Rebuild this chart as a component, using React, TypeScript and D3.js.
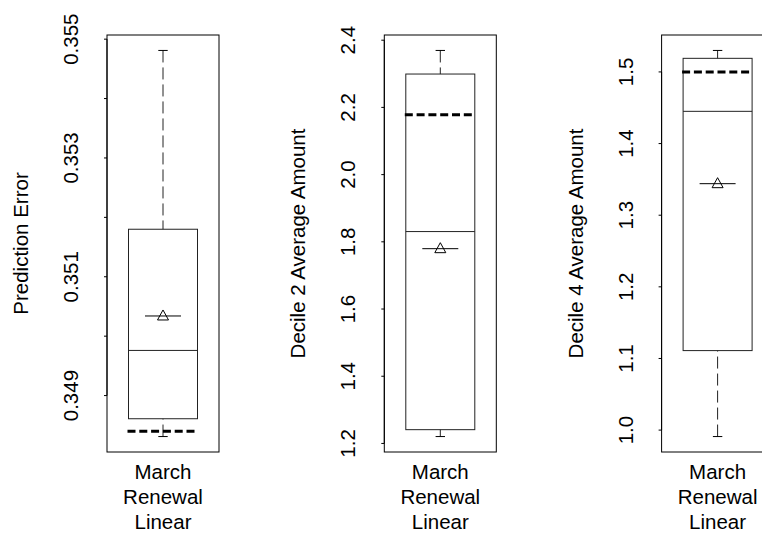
import React from 'react';
import * as d3 from 'd3';

// three single-box panels, one per measure
const yTitles = ['Prediction Error', 'Decile 2 Average Amount', 'Decile 4 Average Amount'];
const groupLines = ['March', 'Renewal', 'Linear'];

const whiskerLow = [0.34831, 1.2205, 0.991];
const lowerQuartile = [0.34861, 1.241, 1.111];
const medians = [0.34976, 1.8305, 1.445];
const upperQuartile = [0.3518, 2.2993, 1.519];
const whiskerHigh = [0.35481, 2.3695, 1.53];
const means = [0.35034, 1.7796, 1.344];
const referenceLevel = [0.3484, 2.178, 1.5];

const tickValues = [
  [0.349, 0.35, 0.351, 0.352, 0.353, 0.354, 0.355],
  [1.2, 1.4, 1.6, 1.8, 2.0, 2.2, 2.4],
  [1.0, 1.1, 1.2, 1.3, 1.4, 1.5],
];
const tickLabels = [
  ['0.349', '', '0.351', '', '0.353', '', '0.355'],
  ['1.2', '1.4', '1.6', '1.8', '2.0', '2.2', '2.4'],
  ['1.0', '1.1', '1.2', '1.3', '1.4', '1.5'],
];

const W = 762;
const H = 537;
const top = 35;
const bottom = 452;
const frameW = 112;
const font = '"Liberation Sans", Arial, sans-serif';
const fs = 20.5;

const panelX = d3.scaleLinear().domain([0, 1]).range([107, 384.3]);

const Panel = ({ i }: { i: number }) => {
  const left = panelX(i);
  const cx = left + 56;
  const half = 34.5;
  const span = whiskerHigh[i] - whiskerLow[i];
  const y = d3
    .scaleLinear()
    .domain([whiskerLow[i] - span * 0.04, whiskerHigh[i] + span * 0.04])
    .range([bottom, top]);
  const ticks = tickValues[i];
  const yMean = y(means[i]);

  return (
    <g>
      <rect x={left} y={top} width={frameW} height={bottom - top} fill="none" stroke="#000" strokeWidth={1} />
      {/* y axis */}
      <line x1={left} x2={left} y1={y(ticks[0])} y2={y(ticks[ticks.length - 1])} stroke="#000" />
      {ticks.map((t, k) => (
        <g key={k}>
          <line x1={left - 3} x2={left} y1={y(t)} y2={y(t)} stroke="#000" />
          {tickLabels[i][k] && (
            <text
              transform={`translate(${left - 29},${y(t)}) rotate(-90)`}
              textAnchor="middle"
              fontFamily={font}
              fontSize={fs}
            >
              {tickLabels[i][k]}
            </text>
          )}
        </g>
      ))}
      <text
        transform={`translate(${left - 79},${(top + bottom) / 2}) rotate(-90)`}
        textAnchor="middle"
        fontFamily={font}
        fontSize={fs}
      >
        {yTitles[i]}
      </text>

      {/* whiskers */}
      <line x1={cx} x2={cx} y1={y(whiskerHigh[i])} y2={y(upperQuartile[i])} stroke="#222" strokeDasharray="12,5" />
      <line x1={cx} x2={cx} y1={y(whiskerLow[i])} y2={y(lowerQuartile[i])} stroke="#222" strokeDasharray="12,5" />
      <line x1={cx - 4.7} x2={cx + 4.7} y1={y(whiskerHigh[i])} y2={y(whiskerHigh[i])} stroke="#000" />
      <line x1={cx - 4.7} x2={cx + 4.7} y1={y(whiskerLow[i])} y2={y(whiskerLow[i])} stroke="#000" />

      {/* box */}
      <rect
        x={cx - half}
        y={y(upperQuartile[i])}
        width={half * 2}
        height={y(lowerQuartile[i]) - y(upperQuartile[i])}
        fill="none"
        stroke="#222"
      />
      <line x1={cx - half} x2={cx + half} y1={y(medians[i])} y2={y(medians[i])} stroke="#222" />

      {/* reference level */}
      <line
        x1={cx - 35.5}
        x2={cx + 31.5}
        y1={y(referenceLevel[i])}
        y2={y(referenceLevel[i])}
        stroke="#000"
        strokeWidth={3}
        strokeDasharray="8,3.8"
      />

      {/* mean */}
      <line x1={cx - 18} x2={cx + 18} y1={yMean} y2={yMean} stroke="#000" />
      <path
        d={`M${cx},${yMean - 6}L${cx + 5.5},${yMean + 4}L${cx - 5.5},${yMean + 4}Z`}
        fill="none"
        stroke="#000"
      />

      {groupLines.map((s, k) => (
        <text key={s} x={cx} y={479 + k * 25} textAnchor="middle" fontFamily={font} fontSize={fs}>
          {s}
        </text>
      ))}
    </g>
  );
};

export default function App() {
  return (
    <svg
      width={W}
      height={H}
      style={{ position: 'absolute', left: 0, top: 0, background: '#fff', display: 'block' }}
    >
      {yTitles.map((_, i) => (
        <Panel key={i} i={i} />
      ))}
    </svg>
  );
}
